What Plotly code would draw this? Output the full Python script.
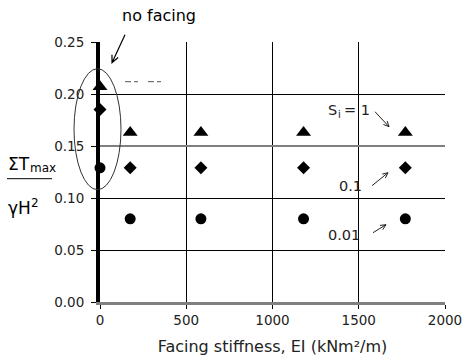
import math
import plotly.graph_objects as go

# Data
stiffness = [0, 175, 585, 1180, 1770]
si_1 = [0.207, 0.163, 0.163, 0.163, 0.163]
si_01 = [0.185, 0.129, 0.129, 0.129, 0.129]
si_001 = [0.129, 0.080, 0.080, 0.080, 0.080]
x_ticks = [0, 500, 1000, 1500, 2000]
y_ticks = [0.00, 0.05, 0.10, 0.15, 0.20, 0.25]

FONT = "DejaVu Sans"

fig = go.Figure()
for ys, sym, sz in [(si_1, "triangle-up", 13), (si_01, "diamond", 10), (si_001, "circle", 11)]:
    fig.add_trace(go.Scatter(x=stiffness, y=ys, mode="markers", cliponaxis=False,
                             marker=dict(symbol=sym, size=sz, color="black", line=dict(width=0)),
                             showlegend=False))

L, R, T, B = 100, 445, 42.3, 302.3
def px(x):
    return (x - L) / (R - L)
def py(y):
    return (B - y) / (B - T)

def arrow_path(tx, ty, hx, hy, wing=6, ang=25):
    dx, dy = hx - tx, hy - ty
    n = math.hypot(dx, dy)
    ux, uy = dx / n, dy / n
    pts = []
    for s in (1, -1):
        a = math.radians(ang * s)
        rx = ux * math.cos(a) - uy * math.sin(a)
        ry = ux * math.sin(a) + uy * math.cos(a)
        pts.append((hx - wing * rx, hy - wing * ry))
    p = f"M {px(tx):.5f},{py(ty):.5f} L {px(hx):.5f},{py(hy):.5f} "
    p += f"M {px(pts[0][0]):.5f},{py(pts[0][1]):.5f} L {px(hx):.5f},{py(hy):.5f} L {px(pts[1][0]):.5f},{py(pts[1][1]):.5f}"
    return p

shapes = [
    dict(type="line", xref="x", yref="y", x0=0, x1=2000, y0=0.15, y1=0.15,
         line=dict(color="#808080", width=2), layer="above"),
    dict(type="circle", xref="paper", yref="paper", x0=px(74), x1=px(121), y0=py(190), y1=py(69),
         line=dict(color="#333333", width=1)),
    dict(type="line", xref="paper", yref="paper", x0=px(125), x1=px(170), y0=py(82), y1=py(82),
         line=dict(color="#555555", width=1, dash="6px,3px,4px,10px")),
    dict(type="line", xref="paper", yref="paper", x0=px(7), x1=px(52), y0=py(179), y1=py(179),
         line=dict(color="black", width=1)),
    dict(type="path", xref="paper", yref="paper", path=arrow_path(125, 35, 112, 63, wing=8),
         line=dict(color="black", width=1.2)),
    dict(type="path", xref="paper", yref="paper", path=arrow_path(375, 112, 389, 127),
         line=dict(color="#222222", width=1)),
    dict(type="path", xref="paper", yref="paper", path=arrow_path(372, 186, 388, 173),
         line=dict(color="#222222", width=1)),
    dict(type="path", xref="paper", yref="paper", path=arrow_path(373, 233, 386, 225),
         line=dict(color="#222222", width=1)),
]

def txt(text, x, y, size, color="#222222", xanchor="left"):
    return dict(text=text, xref="paper", yref="paper", x=px(x), y=py(y), showarrow=False,
                font=dict(family=FONT, size=size, color=color), xanchor=xanchor, yanchor="middle")

annotations = [
    txt("no facing", 159, 16, 16, "black", "center"),
    txt("S", 326, 110, 14.5),
    txt("i", 336, 115, 10),
    txt("= 1", 342, 110, 14.5),
    txt("0.1", 350, 186, 14.5, xanchor="center"),
    txt("0.01", 344, 235, 14.5, xanchor="center"),
    txt("ΣT", 6, 164, 17, "black"),
    txt("max", 28, 168, 12, "black"),
    txt("γH", 6, 208, 17, "black"),
    txt("2", 29, 203, 12, "black"),
]

fig.update_layout(
    width=465, height=360,
    margin=dict(l=L, r=465 - R, t=T, b=360 - B),
    paper_bgcolor="white", plot_bgcolor="white",
    font=dict(family=FONT, size=13.5, color="#222222"),
    shapes=shapes, annotations=annotations,
    xaxis=dict(range=[0, 2000], tickvals=x_ticks, ticktext=[str(v) for v in x_ticks],
               showgrid=True, gridcolor="black", gridwidth=1, zeroline=False,
               showline=True, linecolor="#808080", linewidth=3, automargin=False,
               ticks="outside", ticklen=4, tickcolor="black",
               title=dict(text="Facing stiffness, EI (kNm²/m)",
                          font=dict(family=FONT, size=16, color="#222222"), standoff=14)),
    yaxis=dict(range=[0, 0.25], tickvals=y_ticks, ticktext=[f"{v:.2f}" for v in y_ticks],
               showgrid=True, gridcolor="black", gridwidth=1, zeroline=False, automargin=False,
               showline=True, linecolor="black", linewidth=4,
               ticks="outside", ticklen=5, tickcolor="black", ticklabelstandoff=4),
)

fig.write_html("out.html")
